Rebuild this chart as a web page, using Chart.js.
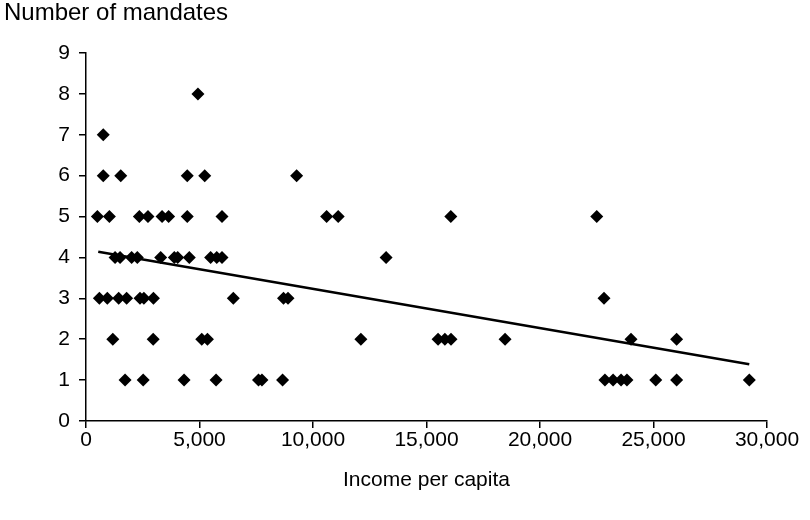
<!DOCTYPE html>
<html lang="en">
<head>
  <meta charset="utf-8">
  <title>Mandates vs income per capita</title>
  <style>
    html, body { margin: 0; padding: 0; background: #fff; }
    #wrap { width: 810px; height: 520px; }
  </style>
</head>
<body>
  <div id="wrap"><canvas id="myChart" width="810" height="520"></canvas></div>

  <script src="https://cdn.jsdelivr.net/npm/chart.js@4.4.0/dist/chart.umd.min.js"></script>
  <script>
    // income per capita of each country and its number of mandates
    var income = [
      4930,
      760,
      760, 1530, 4460, 5230, 9280,
      500, 1030, 2350, 2730, 3350, 3640, 4460, 5990, 10600, 11110, 16070, 22500,
      1280, 1500, 2010, 2260, 3290, 3890, 4040, 4550, 5490, 5760, 5990, 13220,
      590, 940, 1440, 1790, 2380, 2550, 2970, 6490, 8700, 8900, 22820,
      1180, 2960, 5100, 5350, 12110, 15510, 15810, 16080, 18460, 24010, 26020,
      1720, 2520, 4320, 5730, 7600, 7750, 8660, 22860, 23220, 23570, 23830, 25100, 26020, 29220
    ];
    var mandates = [
      8,
      7,
      6, 6, 6, 6, 6,
      5, 5, 5, 5, 5, 5, 5, 5, 5, 5, 5, 5,
      4, 4, 4, 4, 4, 4, 4, 4, 4, 4, 4, 4,
      3, 3, 3, 3, 3, 3, 3, 3, 3, 3, 3,
      2, 2, 2, 2, 2, 2, 2, 2, 2, 2, 2,
      1, 1, 1, 1, 1, 1, 1, 1, 1, 1, 1, 1, 1, 1
    ];

    // linear trend line end points
    var trendX = [540, 29220];
    var trendY = [4.14, 1.39];

    var xTicks = [0, 5000, 10000, 15000, 20000, 25000, 30000];
    var yTicks = [0, 1, 2, 3, 4, 5, 6, 7, 8, 9];

    var points = income.map(function (x, i) { return { x: x, y: mandates[i] }; });
    var trend = trendX.map(function (x, i) { return { x: x, y: trendY[i] }; });

    var family = "'Liberation Sans', Arial, sans-serif";
    var tickFont = { family: family, size: 21 };
    var titleFont = { family: family, size: 21 };

    // y axis title sits horizontally above the axis
    var topLabel = {
      id: 'topLabel',
      afterDraw: function (chart) {
        var c = chart.ctx;
        c.save();
        c.fillStyle = '#000';
        c.font = '24px "Liberation Sans", Arial, sans-serif';
        c.textBaseline = 'middle';
        c.textAlign = 'left';
        c.fillText('Number of mandates', 4, 13);
        c.restore();
      }
    };

    Chart.defaults.font.family = family;
    Chart.defaults.color = '#000';

    var ctx = document.getElementById('myChart').getContext('2d');
    var myChart = new Chart(ctx, {
      type: 'scatter',
      data: {
        datasets: [{
          data: points,
          pointStyle: 'rectRot',
          pointRadius: 6.5,
          pointHoverRadius: 6.5,
          backgroundColor: '#000',
          borderColor: '#000',
          borderWidth: 0
        }, {
          type: 'line',
          data: trend,
          borderColor: '#000',
          borderWidth: 2.5,
          pointRadius: 0,
          fill: false
        }]
      },
      options: {
        responsive: false,
        animation: false,
        layout: { padding: { left: 5, top: 53, right: 43, bottom: 0 } },
        plugins: {
          legend: { display: false },
          tooltip: { enabled: false }
        },
        scales: {
          x: {
            type: 'linear',
            min: 0,
            max: 30000,
            afterBuildTicks: function (s) { s.ticks = xTicks.map(function (v) { return { value: v }; }); },
            afterFit: function (s) { s.height = 99; },
            ticks: {
              font: tickFont,
              padding: 0,
              maxRotation: 0,
              callback: function (v) { return v.toLocaleString('en-US'); }
            },
            grid: { drawOnChartArea: false, tickLength: 7, color: '#000', lineWidth: 1.5 },
            border: { color: '#000', width: 1.5 },
            title: { display: true, text: 'Income per capita', font: titleFont, padding: { top: 0, bottom: 27 } }
          },
          y: {
            type: 'linear',
            min: 0,
            max: 9,
            afterBuildTicks: function (s) { s.ticks = yTicks.map(function (v) { return { value: v }; }); },
            afterFit: function (s) { s.width = 81; },
            ticks: { font: tickFont, padding: 9 },
            grid: { drawOnChartArea: false, tickLength: 7, color: '#000', lineWidth: 1.5 },
            border: { color: '#000', width: 1.5 }
          }
        }
      },
      plugins: [topLabel]
    });
  </script>
</body>
</html>
